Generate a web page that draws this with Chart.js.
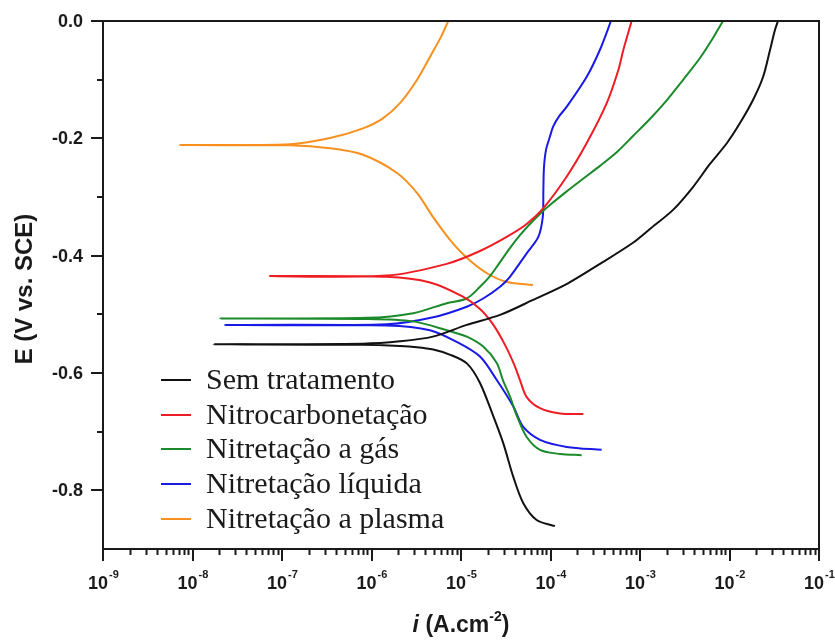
<!DOCTYPE html>
<html>
<head>
<meta charset="utf-8">
<script src="https://cdn.jsdelivr.net/npm/chart.js@4.4.1/dist/chart.umd.min.js"></script>
<style>
  html, body { margin: 0; padding: 0; background: #ffffff; }
  #wrap { width: 835px; height: 643px; }
</style>
</head>
<body>
<div id="wrap"><canvas id="tafel" width="835" height="643"></canvas></div>
<script>
// Potentiodynamic polarization curves: current density i (A/cm²) vs potential E (V vs. SCE).
// Each curve runs from the cathodic end, out to the corrosion tip, and up the anodic branch.

const seriesNames = [
  'Sem tratamento',
  'Nitrocarbonetação',
  'Nitretação a gás',
  'Nitretação líquida',
  'Nitretação a plasma'
];
const seriesColors = ['#111111', '#ee1d23', '#1b8a2a', '#1a1ae6', '#f7901e'];

// Sem tratamento
const semI = [1.12e-4, 7.0e-5, 4.97e-5, 3.84e-5, 2.97e-5, 2.30e-5, 1.63e-5, 1.17e-5, 7.6e-6, 4.9e-6, 3.2e-6, 2.08e-6, 8.0e-7,
  1.71e-8,
  8.0e-7, 2.08e-6, 4.86e-6, 1.16e-5, 2.73e-5, 6.37e-5, 1.53e-4, 3.57e-4, 8.35e-4, 1.29e-3, 2.34e-3, 3.91e-3,
  6.05e-3, 9.37e-3, 1.31e-2, 1.83e-2, 2.37e-2, 2.84e-2, 3.22e-2, 3.48e-2];
const semE = [-0.861, -0.8505, -0.822, -0.777, -0.720, -0.674, -0.617, -0.584, -0.569, -0.560, -0.556, -0.554, -0.552,
  -0.551,
  -0.550, -0.546, -0.538, -0.518, -0.501, -0.4755, -0.448, -0.414, -0.378, -0.3545, -0.322, -0.283,
  -0.2437, -0.208, -0.174, -0.1347, -0.0955, -0.049, -0.0153, 0.0];

// Nitrocarbonetação
const ncI = [2.33e-4, 1.28e-4, 7.64e-5, 5.42e-5, 4.56e-5, 3.91e-5, 3.10e-5, 2.30e-5, 1.63e-5, 1.05e-5, 4.51e-6, 1.48e-6,
  7.3e-8,
  1.48e-6, 6.92e-6, 1.63e-5, 3.24e-5, 5.42e-5, 8.32e-5, 1.52e-4, 2.54e-4, 4.25e-4, 5.73e-4, 6.52e-4, 8.07e-4];
const ncE = [-0.670, -0.669, -0.660, -0.641, -0.612, -0.585, -0.552, -0.518, -0.491, -0.470, -0.4457, -0.436,
  -0.4347,
  -0.434, -0.414, -0.392, -0.368, -0.346, -0.319, -0.265, -0.208, -0.140, -0.0835, -0.049, 0.0];

// Nitretação a gás
const gasI = [2.23e-4, 1.28e-4, 7.64e-5, 5.42e-5, 4.23e-5, 3.52e-5, 2.94e-5, 2.51e-5, 1.77e-5, 1.16e-5, 6.92e-6, 2.91e-6, 8.83e-7,
  2.03e-8,
  8.83e-7, 2.93e-6, 6.92e-6, 1.16e-5, 1.63e-5, 2.11e-5, 2.73e-5, 3.52e-5, 4.56e-5, 5.90e-5, 8.24e-5, 9.86e-5,
  1.53e-4, 2.31e-4, 3.57e-4, 5.53e-4, 8.35e-4, 1.29e-3, 2.00e-3, 3.02e-3, 4.68e-3, 6.54e-3, 8.46e-3];
const gasE = [-0.740, -0.738, -0.731, -0.709, -0.674, -0.640, -0.612, -0.583, -0.555, -0.538, -0.527, -0.512, -0.508,
  -0.507,
  -0.506, -0.498, -0.481, -0.473, -0.453, -0.435, -0.411, -0.387, -0.365, -0.346, -0.324, -0.3136,
  -0.290, -0.269, -0.247, -0.2233, -0.196, -0.167, -0.1347, -0.1006, -0.0631, -0.029, 0.0];

// Nitretação líquida
const liqI = [3.73e-4, 1.52e-4, 7.64e-5, 4.97e-5, 3.84e-5, 2.51e-5, 1.63e-5, 8.95e-6, 4.51e-6, 1.48e-6,
  2.31e-8,
  1.48e-6, 4.9e-6, 1.16e-5, 1.77e-5, 2.73e-5, 3.52e-5, 5.42e-5, 7.31e-5, 8.2e-5, 8.32e-5, 8.45e-5, 8.9e-5,
  9.86e-5, 1.07e-4, 1.24e-4, 1.52e-4, 2.54e-4, 3.57e-4, 4.74e-4];
const liqE = [-0.731, -0.726, -0.714, -0.692, -0.657, -0.612, -0.572, -0.547, -0.527, -0.519,
  -0.518,
  -0.517, -0.505, -0.487, -0.473, -0.453, -0.436, -0.396, -0.368, -0.334, -0.290, -0.250, -0.220,
  -0.197, -0.180, -0.163, -0.146, -0.095, -0.049, 0.0];

// Nitretação a plasma
const plasI = [6.37e-5, 3.27e-5, 1.95e-5, 1.17e-5, 7.53e-6, 4.86e-6, 3.22e-6, 1.93e-6, 8.04e-7, 3.44e-7, 1.23e-7,
  7.24e-9,
  1.23e-7, 3.44e-7, 8.04e-7, 1.34e-6, 2.08e-6, 3.22e-6, 4.74e-6, 5.98e-6, 7.2e-6];
const plasE = [-0.450, -0.445, -0.430, -0.404, -0.373, -0.334, -0.293, -0.259, -0.228, -0.217, -0.212,
  -0.2115,
  -0.210, -0.1995, -0.183, -0.166, -0.140, -0.1006, -0.055, -0.027, 0.0];

// Axis ticks
const decadeTicks = [1e-9, 1e-8, 1e-7, 1e-6, 1e-5, 1e-4, 1e-3, 1e-2, 1e-1];
const decadeExponents = ['-9', '-8', '-7', '-6', '-5', '-4', '-3', '-2', '-1'];
const yMajorTicks = [0.0, -0.2, -0.4, -0.6, -0.8];
const yMajorLabels = ['0.0', '-0.2', '-0.4', '-0.6', '-0.8'];
const yMinorTicks = [-0.1, -0.3, -0.5, -0.7];

const currents = [semI, ncI, gasI, liqI, plasI];
const potentials = [semE, ncE, gasE, liqE, plasE];

const SANS = "'Liberation Sans', Arial, Helvetica, sans-serif";
const SERIF = "'Liberation Serif', 'Times New Roman', Times, serif";
const INK = '#1a1a1a';

const datasets = seriesNames.map((name, s) => ({
  label: name,
  data: currents[s].map((v, k) => ({ x: v, y: potentials[s][k] })),
  borderColor: seriesColors[s],
  backgroundColor: seriesColors[s],
  borderWidth: 2,
  pointRadius: 0,
  tension: 0.3,
  fill: false
}));

// Frame, tick marks, tick labels, axis titles and the inset legend
const decorations = {
  id: 'decorations',
  afterDraw(chart) {
    const ctx = chart.ctx;
    const a = chart.chartArea;
    const xs = chart.scales.x;
    const ys = chart.scales.y;
    ctx.save();

    // frame
    ctx.strokeStyle = INK;
    ctx.lineWidth = 2;
    ctx.strokeRect(a.left, a.top, a.right - a.left, a.bottom - a.top);

    // tick marks, all pointing outward
    ctx.beginPath();
    yMajorTicks.forEach(v => {
      const p = Math.round(ys.getPixelForValue(v));
      ctx.moveTo(a.left - 12, p); ctx.lineTo(a.left, p);
    });
    yMinorTicks.forEach(v => {
      const p = Math.round(ys.getPixelForValue(v));
      ctx.moveTo(a.left - 6, p); ctx.lineTo(a.left, p);
    });
    decadeTicks.forEach((d, k) => {
      const p = Math.round(xs.getPixelForValue(d));
      ctx.moveTo(p, a.bottom); ctx.lineTo(p, a.bottom + 12);
      if (k < decadeTicks.length - 1) {
        for (let m = 2; m <= 9; m++) {
          const q = Math.round(xs.getPixelForValue(m * d)) + 0.5;
          ctx.moveTo(q, a.bottom); ctx.lineTo(q, a.bottom + 6);
        }
      }
    });
    ctx.stroke();

    ctx.fillStyle = INK;

    // potential labels
    ctx.font = 'bold 18px ' + SANS;
    ctx.textAlign = 'right';
    ctx.textBaseline = 'middle';
    yMajorTicks.forEach((v, k) => {
      ctx.fillText(yMajorLabels[k], a.left - 20, ys.getPixelForValue(v) + 1);
    });

    // decade labels 10^n
    ctx.textBaseline = 'alphabetic';
    ctx.textAlign = 'left';
    decadeTicks.forEach((d, k) => {
      const p = xs.getPixelForValue(d);
      ctx.font = 'bold 18px ' + SANS;
      const wb = ctx.measureText('10').width;
      ctx.font = 'bold 11px ' + SANS;
      const we = ctx.measureText(decadeExponents[k]).width;
      const x0 = p - (wb + we) / 2;
      ctx.font = 'bold 18px ' + SANS;
      ctx.fillText('10', x0, a.bottom + 40);
      ctx.font = 'bold 11px ' + SANS;
      ctx.fillText(decadeExponents[k], x0 + wb + 1, a.bottom + 29);
    });

    // x title: i (A.cm^-2)
    const tParts = [
      { t: 'i', f: 'italic bold 23px ' + SANS, dy: 0 },
      { t: ' (A.cm', f: 'bold 23px ' + SANS, dy: 0 },
      { t: '-2', f: 'bold 14px ' + SANS, dy: -11 },
      { t: ')', f: 'bold 23px ' + SANS, dy: 0 }
    ];
    let total = 0;
    tParts.forEach(pt => { ctx.font = pt.f; pt.w = ctx.measureText(pt.t).width; total += pt.w; });
    let tx = (a.left + a.right) / 2 - total / 2;
    const tBase = a.bottom + 83;
    tParts.forEach(pt => { ctx.font = pt.f; ctx.fillText(pt.t, tx, tBase + pt.dy); tx += pt.w; });

    // y title
    ctx.save();
    ctx.translate(25, (a.top + a.bottom) / 2 + 4);
    ctx.rotate(-Math.PI / 2);
    ctx.textAlign = 'center';
    ctx.textBaseline = 'middle';
    ctx.font = 'bold 24px ' + SANS;
    ctx.fillText('E (V vs. SCE)', 0, 0);
    ctx.restore();

    // legend inside the plot
    const lx = a.left + 58;
    const ly0 = a.top + 359;
    const step = 34.7;
    ctx.font = '30px ' + SERIF;
    ctx.textAlign = 'left';
    ctx.textBaseline = 'alphabetic';
    chart.data.datasets.forEach((ds, k) => {
      const y = Math.round(ly0 + k * step);
      ctx.strokeStyle = ds.borderColor;
      ctx.lineWidth = 2;
      ctx.beginPath();
      ctx.moveTo(lx, y); ctx.lineTo(lx + 30, y);
      ctx.stroke();
      ctx.fillStyle = INK;
      ctx.fillText(ds.label, lx + 45, y + 9);
    });

    ctx.restore();
  }
};

new Chart(document.getElementById('tafel'), {
  type: 'line',
  data: { datasets },
  plugins: [decorations],
  options: {
    responsive: false,
    animation: false,
    layout: { padding: { top: 21, right: 16, left: 0, bottom: 0 } },
    plugins: { legend: { display: false }, tooltip: { enabled: false }, title: { display: false } },
    scales: {
      x: {
        type: 'logarithmic',
        min: 1e-9,
        max: 1e-1,
        grid: { display: false, drawTicks: false },
        border: { display: false },
        ticks: { display: false },
        afterFit: s => { s.height = 94; }
      },
      y: {
        type: 'linear',
        min: -0.9,
        max: 0,
        grid: { display: false, drawTicks: false },
        border: { display: false },
        ticks: { display: false },
        afterFit: s => { s.width = 103; }
      }
    }
  }
});
</script>
</body>
</html>
